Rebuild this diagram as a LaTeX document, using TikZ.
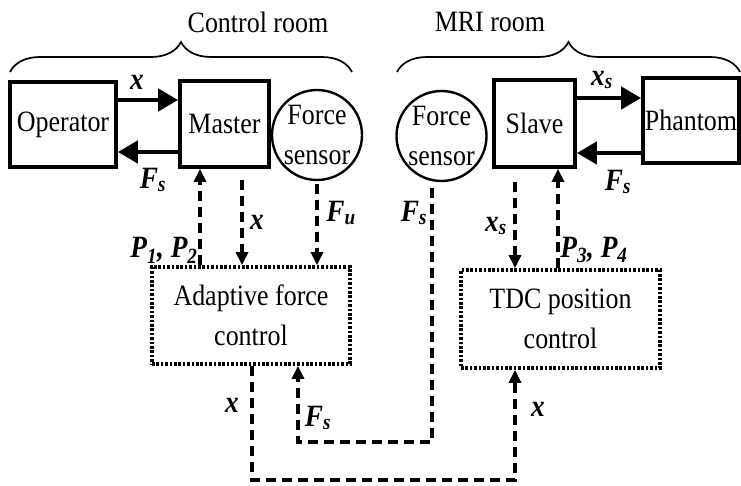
\documentclass[tikz,border=0pt]{standalone}
\usepackage{fontspec}
\setmainfont{Liberation Serif}[FakeStretch=0.88]
\usetikzlibrary{arrows.meta,decorations.pathreplacing,calc}
\begin{document}
\begin{tikzpicture}[x=1pt,y=-1pt,
 txt/.style={font=\fontsize{29.5}{40}\selectfont},
 blk/.style={draw,line width=3.8pt,inner sep=0pt,txt},
 sens/.style={draw,circle,line width=2.4pt,inner sep=0pt,minimum size=90pt,align=center,txt},
 ctrl/.style={draw,line width=3.8pt,dash pattern=on 2.6pt off 1.8pt,inner sep=0pt,align=center,txt},
 sig/.style={line width=4.5pt,-{Triangle[length=20pt,width=22pt]}},
 dsh/.style={line width=3.3pt,dash pattern=on 10pt off 6pt},
 dar/.style={dsh,-{Triangle[length=13pt,width=12pt]}},
 lab/.style={font=\fontsize{31}{34}\selectfont\bfseries\itshape,inner sep=0pt},
 room/.style={decorate,decoration={brace,amplitude=30pt},line width=1.7pt}
]
\useasboundingbox (0,0) rectangle (741,486);
% blocks
\node[blk,minimum width=106pt,minimum height=85pt] (op) at (63,124.5) {Operator};
\node[blk,minimum width=89pt,minimum height=86pt] (ma) at (224.5,124) {Master};
\node[sens] (fl) at (317,135) {Force\\sensor};
\node[sens] (fr) at (441.5,136) {Force\\sensor};
\node[blk,minimum width=81pt,minimum height=87pt] (sl) at (534.5,123.5) {Slave};
\node[blk,minimum width=96pt,minimum height=85pt] (ph) at (691,120.5) {Phantom};
\node[ctrl,minimum width=198pt,minimum height=97pt] (afc) at (251,315.5) {Adaptive force\\control};
\node[ctrl,minimum width=199pt,minimum height=98pt] (tdc) at (560.5,319) {TDC position\\control};
% rooms
\coordinate (b1) at (10,72); \coordinate (b2) at (352,72);
\coordinate (b3) at (397,72); \coordinate (b4) at (740,72);
\draw[room] (b1) -- (b2);
\draw[room] (b3) -- (b4);
\node[txt,inner sep=0pt] (cr) at (258,22) {Control room};
\node[txt,inner sep=0pt] (mr) at (490,22) {MRI room};
% solid signals
\draw[sig] ([yshift=24.5pt]op.east) -- ([yshift=24.5pt]op.east -| ma.west);
\draw[sig] ([yshift=-27.5pt]op.east -| ma.west) -- ([yshift=-27.5pt]op.east);
\draw[sig] ([yshift=25.5pt]sl.east) -- ([yshift=25.5pt]sl.east -| ph.west);
\draw[sig] ([yshift=-29.5pt]sl.east -| ph.west) -- ([yshift=-29.5pt]sl.east);
% dashed signals
\draw[dar] ([xshift=-24.5pt]ma.south |- afc.north) -- ([xshift=-24.5pt]ma.south);
\draw[dar] ([xshift=17.5pt,yshift=-11pt]ma.south) -- ([xshift=17.5pt]ma.south |- afc.north);
\draw[dar] ([yshift=-3pt]fl.south) -- (fl.south |- afc.north);
\draw[dar] ([xshift=-19.5pt,yshift=-13pt]sl.south) -- ([xshift=-19.5pt]sl.south |- tdc.north);
\draw[dar] ([xshift=23.5pt]sl.south |- tdc.north) -- ([xshift=23.5pt]sl.south);
\coordinate (c1) at (298,442);
\draw[dar] ([xshift=-9.5pt,yshift=-6pt]fr.south) |- (c1) -- (c1 |- afc.south);
\coordinate (c2) at (515,480);
\draw[dar] ([xshift=1pt]afc.south) |- (c2) -- (c2 |- tdc.south);
% labels
\node[lab] (l1) at (137,82) {x};
\node[lab] (l2) at (153,180) {F\textsubscript{s}};
\node[lab] (l3) at (602,80) {x\textsubscript{s}};
\node[lab] (l4) at (618,182) {F\textsubscript{s}};
\node[lab] (l5) at (164,250) {P\textsubscript{1}, P\textsubscript{2}};
\node[lab] (l6) at (257,222) {x};
\node[lab] (l7) at (341,213) {F\textsubscript{u}};
\node[lab] (l8) at (414,213) {F\textsubscript{s}};
\node[lab] (l9) at (496,226) {x\textsubscript{s}};
\node[lab] (l10) at (594,250) {P\textsubscript{3}, P\textsubscript{4}};
\node[lab] (l11) at (232,405) {x};
\node[lab] (l12) at (318,418) {F\textsubscript{s}};
\node[lab] (l13) at (538,409) {x};
\end{tikzpicture}
\end{document}
